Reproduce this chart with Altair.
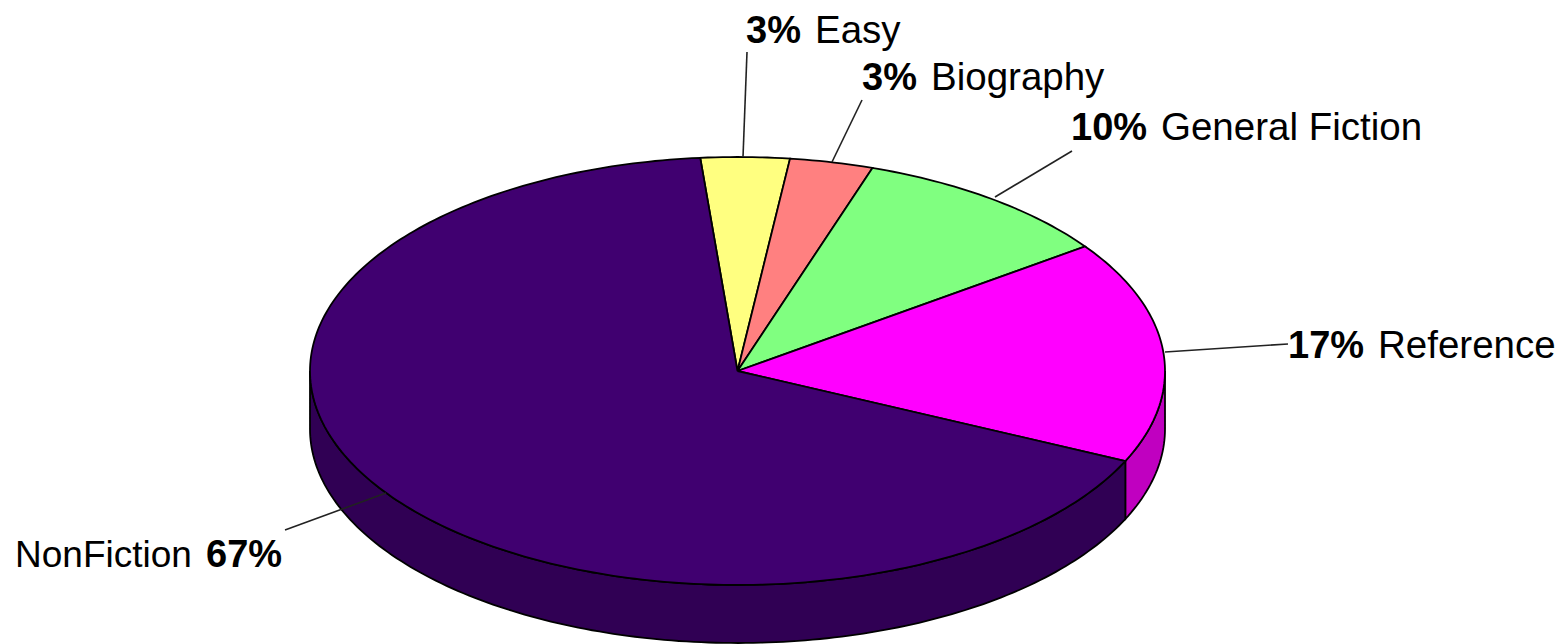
import altair as alt
import numpy as np
import pandas as pd

# Values
categories = ["Easy", "Biography", "General Fiction", "Reference", "NonFiction"]
shares = [3.35, 3.15, 10.0, 16.8, 66.7]
percent_labels = ["3%", "3%", "10%", "17%", "67%"]
top_colors = ["#ffff80", "#ff8080", "#80ff80", "#ff00ff", "#400070"]
side_colors = ["#c0c060", "#c06060", "#60c060", "#c000c0", "#300054"]

START_DEG = -5.0
CX, CY, RX, RY, DEPTH = 737.5, 371.0, 427.5, 214.0, 58.0

# Label layout (name text x, percent text x, baseline y, leader end x / y, leader start x / y)
pct_x = [746, 862, 1071, 1288, 206]
name_x = [815, 931, 1161, 1378, 15]
base_y = [43, 90, 140, 358, 567]
name_size = [38.5, 38.5, 38.5, 38.5, 37]
pct_size = [38, 38, 38, 38, 38]
lead_x0 = [743, 832, 995, 1165, 386]
lead_y0 = [157, 162, 197, 352, 493]
lead_x1 = [747, 862, 1072, 1288, 285]
lead_y1 = [52, 100, 151, 344, 530]


def ell(deg, drop=0.0):
    t = np.radians(deg)
    return CX + RX * np.sin(t), CY - RY * np.cos(t) + drop


x_scale = alt.Scale(domain=[8, 1556], range=[0, 1548], nice=False, zero=False)
y_scale = alt.Scale(domain=[8, 644], range=[0, 636], nice=False, zero=False)
X = alt.X("x:Q", scale=x_scale, axis=None)
Y = alt.Y("y:Q", scale=y_scale, axis=None)
S = alt.Size("s:Q", scale=None, legend=None)


def poly(pts, fill, width=1.8):
    df = pd.DataFrame(pts, columns=["x", "y"])
    df["i"] = range(len(df))
    return (
        alt.Chart(df)
        .mark_line(fill=fill, stroke="#000000", strokeWidth=width, interpolate="linear", clip=False)
        .encode(x=X, y=Y, order="i:Q")
    )


edges = START_DEG + np.concatenate([[0], np.cumsum(shares)]) * 3.6
layers = []

# Visible side wall: eccentric angles 90 to 270
for k in range(len(shares)):
    a, b = max(edges[k], 90.0), min(edges[k + 1], 270.0)
    if a >= b:
        continue
    deg = np.arange(a, b + 0.5, 1.0)
    deg[-1] = b
    upper = [ell(d) for d in deg]
    lower = [ell(d, DEPTH) for d in deg[::-1]]
    layers.append(poly(upper + lower + [upper[0]], side_colors[k]))

# Top face
for k in range(len(shares)):
    deg = np.arange(edges[k], edges[k + 1] + 0.5, 1.0)
    deg[-1] = edges[k + 1]
    arc = [ell(d) for d in deg]
    layers.append(poly([(CX, CY)] + arc + [(CX, CY)], top_colors[k]))

# Leader lines
rows = []
for k, c in enumerate(categories):
    rows += [
        {"c": c, "i": 0, "x": lead_x0[k], "y": lead_y0[k]},
        {"c": c, "i": 1, "x": lead_x1[k], "y": lead_y1[k]},
    ]
layers.append(
    alt.Chart(pd.DataFrame(rows))
    .mark_line(color="#222222", strokeWidth=1.6, clip=False)
    .encode(x=X, y=Y, detail="c:N", order="i:Q")
)

# Labels
FONT = "Liberation Sans"
pct = pd.DataFrame({"x": pct_x, "y": base_y, "t": percent_labels, "s": pct_size})
names = pd.DataFrame({"x": name_x, "y": base_y, "t": categories, "s": name_size})
layers.append(
    alt.Chart(pct)
    .mark_text(font=FONT, fontWeight="bold", align="left", baseline="alphabetic", color="#000000", clip=False)
    .encode(x=X, y=Y, text="t:N", size=S)
)
layers.append(
    alt.Chart(names)
    .mark_text(font=FONT, align="left", baseline="alphabetic", color="#000000", clip=False)
    .encode(x=X, y=Y, text="t:N", size=S)
)

chart = (
    alt.layer(*layers)
    .properties(width=1548, height=636, padding=0, autosize=alt.AutoSizeParams(type="none"))
    .configure_view(stroke=None)
)
chart.save("out.html", embed_options={"renderer": "svg", "actions": False})
